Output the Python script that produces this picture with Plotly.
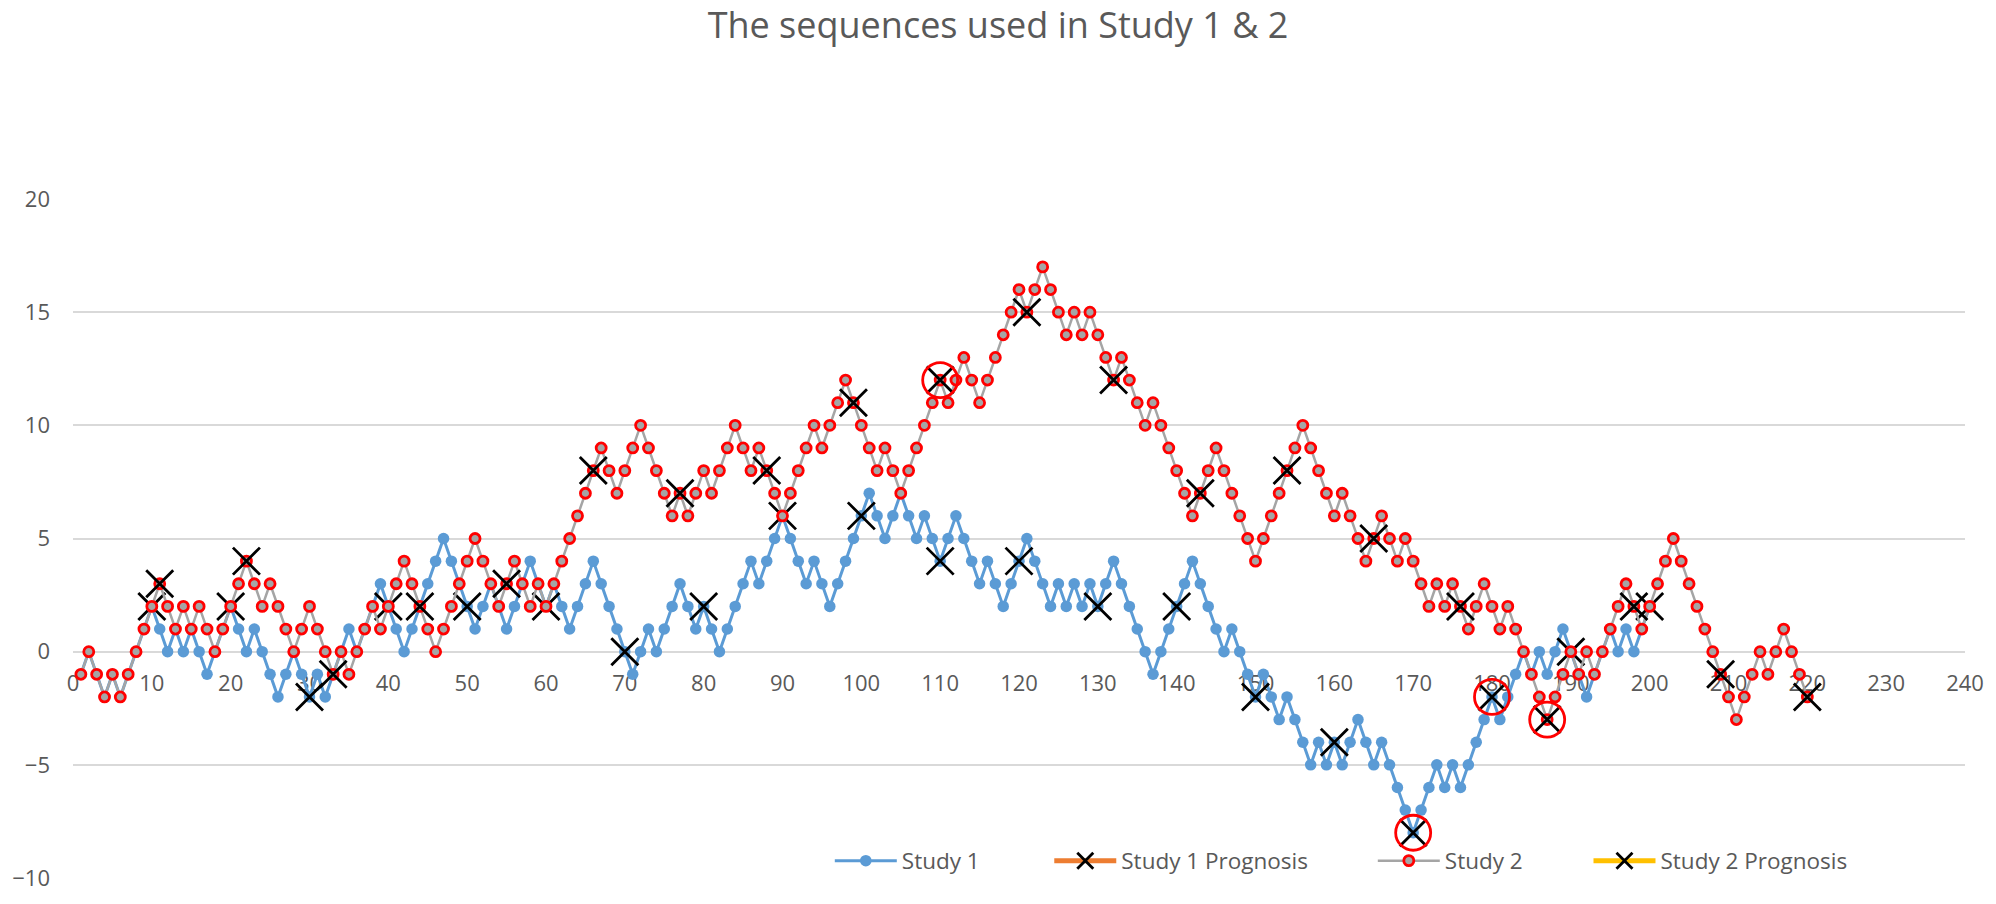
import plotly.graph_objects as go

# values, one per step (steps start at 1)
study1 = [-1, 0, -1, -2, -1, -2, -1, 0, 1, 2,
          1, 0, 1, 0, 1, 0, -1, 0, 1, 2,
          1, 0, 1, 0, -1, -2, -1, 0, -1, -2,
          -1, -2, -1, 0, 1, 0, 1, 2, 3, 2,
          1, 0, 1, 2, 3, 4, 5, 4, 3, 2,
          1, 2, 3, 2, 1, 2, 3, 4, 3, 2,
          3, 2, 1, 2, 3, 4, 3, 2, 1, 0,
          -1, 0, 1, 0, 1, 2, 3, 2, 1, 2,
          1, 0, 1, 2, 3, 4, 3, 4, 5, 6,
          5, 4, 3, 4, 3, 2, 3, 4, 5, 6,
          7, 6, 5, 6, 7, 6, 5, 6, 5, 4,
          5, 6, 5, 4, 3, 4, 3, 2, 3, 4,
          5, 4, 3, 2, 3, 2, 3, 2, 3, 2,
          3, 4, 3, 2, 1, 0, -1, 0, 1, 2,
          3, 4, 3, 2, 1, 0, 1, 0, -1, -2,
          -1, -2, -3, -2, -3, -4, -5, -4, -5, -4,
          -5, -4, -3, -4, -5, -4, -5, -6, -7, -8,
          -7, -6, -5, -6, -5, -6, -5, -4, -3, -2,
          -3, -2, -1, 0, -1, 0, -1, 0, 1, 0,
          -1, -2, -1, 0, 1, 0, 1, 0, 1, 2]

study2 = [-1, 0, -1, -2, -1, -2, -1, 0, 1, 2,
          3, 2, 1, 2, 1, 2, 1, 0, 1, 2,
          3, 4, 3, 2, 3, 2, 1, 0, 1, 2,
          1, 0, -1, 0, -1, 0, 1, 2, 1, 2,
          3, 4, 3, 2, 1, 0, 1, 2, 3, 4,
          5, 4, 3, 2, 3, 4, 3, 2, 3, 2,
          3, 4, 5, 6, 7, 8, 9, 8, 7, 8,
          9, 10, 9, 8, 7, 6, 7, 6, 7, 8,
          7, 8, 9, 10, 9, 8, 9, 8, 7, 6,
          7, 8, 9, 10, 9, 10, 11, 12, 11, 10,
          9, 8, 9, 8, 7, 8, 9, 10, 11, 12,
          11, 12, 13, 12, 11, 12, 13, 14, 15, 16,
          15, 16, 17, 16, 15, 14, 15, 14, 15, 14,
          13, 12, 13, 12, 11, 10, 11, 10, 9, 8,
          7, 6, 7, 8, 9, 8, 7, 6, 5, 4,
          5, 6, 7, 8, 9, 10, 9, 8, 7, 6,
          7, 6, 5, 4, 5, 6, 5, 4, 5, 4,
          3, 2, 3, 2, 3, 2, 1, 2, 3, 2,
          1, 2, 1, 0, -1, -2, -3, -2, -1, 0,
          -1, 0, -1, 0, 1, 2, 3, 2, 1, 2,
          3, 4, 5, 4, 3, 2, 1, 0, -1, -2,
          -3, -2, -1, 0, -1, 0, 1, 0, -1, -2]

# steps where a prognosis was asked
study1_prog_steps = [10, 20, 30, 40, 50, 60, 70, 80, 90, 100,
                     110, 120, 130, 140, 150, 160, 170, 180, 190, 200]
study2_prog_steps = [11, 22, 33, 44, 55, 66, 77, 88, 99, 110,
                     121, 132, 143, 154, 165, 176, 187, 198, 209, 220]

# circled points
study1_circled = [170, 180]
study2_circled = [110, 187]

steps1 = list(range(1, len(study1) + 1))
steps2 = list(range(1, len(study2) + 1))

# prognosis series: isolated points with gaps, so only markers show (like Excel)
prog1_y = [v if s in study1_prog_steps else None for s, v in zip(steps1, study1)]
prog2_y = [v if s in study2_prog_steps else None for s, v in zip(steps2, study2)]

circ_x = study2_circled + study1_circled
circ_y = [study2[s - 1] for s in study2_circled] + [study1[s - 1] for s in study1_circled]

GREY_TXT = "#595959"
FONT = "Open Sans"

fig = go.Figure()

fig.add_trace(go.Scatter(x=steps1, y=study1, mode="lines+markers", name="Study 1",
                         legend="legend",
                         line=dict(color="#5B9BD5", width=3),
                         marker=dict(color="#5B9BD5", size=11.5, symbol="circle")))

fig.add_trace(go.Scatter(x=steps1, y=prog1_y, mode="lines+markers", name="Study 1 Prognosis",
                         legend="legend2", connectgaps=False,
                         line=dict(color="#ED7D31", width=5),
                         marker=dict(symbol="x-thin", size=27, color="black",
                                     line=dict(color="black", width=2.8))))

fig.add_trace(go.Scatter(x=steps2, y=study2, mode="lines+markers", name="Study 2",
                         legend="legend3",
                         line=dict(color="#A5A5A5", width=2.5),
                         marker=dict(color="#A5A5A5", size=10, symbol="circle",
                                     line=dict(color="#FF0000", width=2.8))))

fig.add_trace(go.Scatter(x=steps2, y=prog2_y, mode="lines+markers", name="Study 2 Prognosis",
                         legend="legend4", connectgaps=False,
                         line=dict(color="#FFC000", width=5),
                         marker=dict(symbol="x-thin", size=27, color="black",
                                     line=dict(color="black", width=2.8))))

fig.add_trace(go.Scatter(x=circ_x, y=circ_y, mode="markers", showlegend=False,
                         hoverinfo="skip",
                         marker=dict(symbol="circle-open", size=35, color="#FF0000",
                                     line=dict(color="#FF0000", width=2.8))))

# one legend box per entry so the spacing can follow the reference
leg = dict(orientation="h", xanchor="left", y=0.025, yanchor="middle",
           bgcolor="rgba(0,0,0,0)", font=dict(size=22.5, color=GREY_TXT), itemwidth=62)

fig.update_layout(
    width=1996, height=904,
    paper_bgcolor="white", plot_bgcolor="white",
    margin=dict(l=63, r=25, t=199, b=15),
    font=dict(family=FONT, color=GREY_TXT, size=22),
    title=dict(text="The sequences used in Study 1 & 2", x=0.5, xanchor="center",
               y=0.972, yanchor="middle", font=dict(size=36, color=GREY_TXT)),
    showlegend=True,
    hovermode=False,
    legend=dict(leg, x=0.400),
    legend2=dict(leg, x=0.516),
    legend3=dict(leg, x=0.687),
    legend4=dict(leg, x=0.801),
)

# x axis crosses at y = 0 (one third up the plot area)
fig.update_xaxes(range=[0, 240], dtick=10, tick0=0, showgrid=False, zeroline=False,
                 showline=False, ticks="", anchor="free", position=1 / 3,
                 layer="below traces", ticklabelstandoff=16, ticklabeloverflow="allow",
                 tickfont=dict(size=22, color=GREY_TXT))
fig.update_yaxes(range=[-10, 20], dtick=5, tick0=0, showgrid=True, gridcolor="#D9D9D9",
                 gridwidth=1.5, zeroline=True, zerolinecolor="#D9D9D9", zerolinewidth=1.5,
                 showline=False, ticks="", ticklabelstandoff=22, domain=[0, 1],
                 ticklabeloverflow="allow",
                 tickfont=dict(size=22, color=GREY_TXT))

# drop the default 8px body margin so the figure sits at the page corner
fig.write_html("out.html", config={"displayModeBar": False},
               post_script="document.body.style.margin='0px';")
